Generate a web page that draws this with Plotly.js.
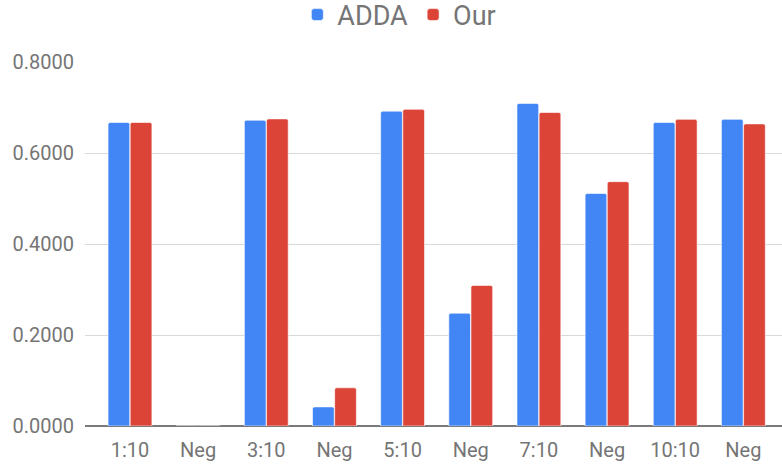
<!DOCTYPE html>
<html>
<head>
<meta charset="utf-8">
<script src="https://cdn.plot.ly/plotly-3.0.1.min.js"></script>
<style>
  html, body { margin: 0; padding: 0; background: #ffffff; }
  #chart { width: 782px; height: 466px; }
</style>
</head>
<body>
<div id="chart"></div>
<script>
const categories = ["1:10", "Neg", "3:10", "Neg", "5:10", "Neg", "7:10", "Neg", "10:10", "Neg"];
const addaValues = [0.667, 0, 0.672, 0.042, 0.692, 0.248, 0.709, 0.511, 0.667, 0.674];
const ourValues  = [0.667, 0, 0.675, 0.084, 0.696, 0.309, 0.689, 0.537, 0.674, 0.664];
const yTickValues = [0, 0.2, 0.4, 0.6, 0.8];

const positions = categories.map((c, i) => i);

const textColor = "#757575";

const traces = [
  {
    type: "bar",
    name: "ADDA",
    x: positions,
    y: addaValues,
    marker: { color: "#4285F4", line: { color: "#ffffff", width: 0.6 } },
    hoverinfo: "y+name"
  },
  {
    type: "bar",
    name: "Our",
    x: positions,
    y: ourValues,
    marker: { color: "#DB4437", line: { color: "#ffffff", width: 0.6 } },
    hoverinfo: "y+name"
  }
];

const layout = {
  width: 782,
  height: 466,
  margin: { l: 85, r: 0, t: 62, b: 40, pad: 0, autoexpand: false },
  paper_bgcolor: "#ffffff",
  plot_bgcolor: "#ffffff",
  font: { family: "Roboto, Arial, sans-serif", color: textColor, size: 20 },
  barmode: "group",
  bargap: 0.35,
  bargroupgap: 0.02,
  barcornerradius: 2,
  showlegend: true,
  legend: {
    orientation: "h",
    x: 0.451,
    xanchor: "center",
    xref: "paper",
    yref: "paper",
    y: 1.129,
    yanchor: "middle",
    font: { size: 27, color: textColor },
    itemwidth: 30,
    tracegroupgap: 0,
    bgcolor: "rgba(0,0,0,0)"
  },
  xaxis: {
    range: [-0.66, 9.567],
    tickmode: "array",
    tickvals: positions,
    ticktext: categories,
    showgrid: false,
    zeroline: false,
    showline: false,
    ticks: "",
    ticklabelstandoff: 10,
    tickfont: { size: 20, color: textColor },
    fixedrange: true
  },
  yaxis: {
    range: [0, 0.8],
    tickmode: "array",
    tickvals: yTickValues,
    tickformat: ".4f",
    showgrid: true,
    gridcolor: "#d9d9d9",
    gridwidth: 1,
    zeroline: true,
    zerolinecolor: "#7a7a7a",
    zerolinewidth: 1.5,
    showline: false,
    ticks: "",
    ticklabelstandoff: 10,
    tickfont: { size: 20, color: textColor },
    fixedrange: true
  }
};

Plotly.newPlot("chart", traces, layout, { displayModeBar: false, staticPlot: true });
</script>
</body>
</html>
